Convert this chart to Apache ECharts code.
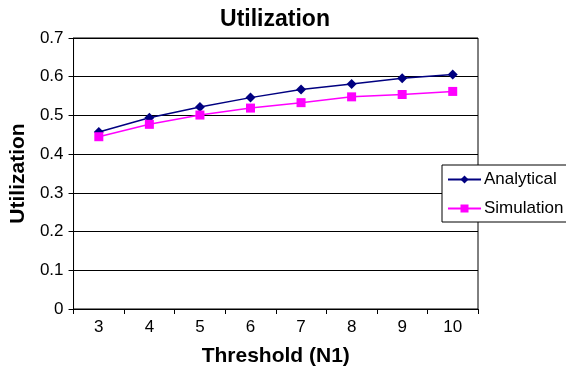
<!DOCTYPE html>
<html>
<head>
<meta charset="utf-8">
<script src="https://cdn.jsdelivr.net/npm/echarts@6/dist/echarts.min.js"></script>
<style>
  html, body { margin: 0; padding: 0; background: #fff; }
  #chart { width: 566px; height: 372px; }
</style>
</head>
<body>
<div id="chart"></div>
<script>
// Threshold values (N1) along the horizontal axis
const thresholds = ['3', '4', '5', '6', '7', '8', '9', '10'];
// Utilization from the analytical model
const analytical = [0.457, 0.494, 0.522, 0.546, 0.567, 0.581, 0.596, 0.606];
// Utilization measured in simulation
const simulation = [0.445, 0.477, 0.501, 0.519, 0.533, 0.548, 0.554, 0.562];

const FONT = '"Liberation Sans", Arial, sans-serif';

const chart = echarts.init(document.getElementById('chart'), null, { renderer: 'canvas' });
chart.setOption({
  animation: false,
  backgroundColor: '#ffffff',
  title: {
    text: 'Utilization',
    left: 270,
    textAlign: 'center',
    top: 3,
    textStyle: { fontFamily: FONT, fontSize: 23, fontWeight: 'bold', color: '#000' }
  },
  legend: {
    left: 442,
    top: 165,
    orient: 'vertical',
    itemGap: 12,
    itemWidth: 33,
    itemHeight: 10,
    padding: [6, 40, 5, 5],
    borderColor: '#000',
    borderWidth: 1,
    backgroundColor: '#fff',
    textStyle: { fontFamily: FONT, fontSize: 17, color: '#000', padding: [0, 0, 0, -2] },
    data: ['Analytical', 'Simulation']
  },
  grid: { left: 73, right: 88, top: 38, bottom: 61, containLabel: false, show: true, borderColor: '#000', borderWidth: 1 },
  xAxis: {
    type: 'category',
    data: thresholds,
    boundaryGap: true,
    name: 'Threshold (N1)',
    nameLocation: 'middle',
    nameGap: 37,
    nameTextStyle: { fontFamily: FONT, fontSize: 21, fontWeight: 'bold', color: '#000' },
    axisLine: { lineStyle: { color: '#000', width: 1 } },
    axisTick: { show: true, length: 5, alignWithLabel: false, lineStyle: { color: '#000' } },
    axisLabel: { fontFamily: FONT, fontSize: 17, color: '#000', margin: 10 },
    splitLine: { show: false }
  },
  yAxis: {
    type: 'value',
    min: 0,
    max: 0.7,
    interval: 0.1,
    name: 'Utilization',
    nameLocation: 'middle',
    nameGap: 37,
    nameTextStyle: { fontFamily: FONT, fontSize: 21, fontWeight: 'bold', color: '#000' },
    axisLine: { show: true, lineStyle: { color: '#000', width: 1 } },
    axisTick: { show: true, length: 5, lineStyle: { color: '#000' } },
    axisLabel: {
      fontFamily: FONT, fontSize: 17, color: '#000', margin: 10,
      formatter: v => (Math.round(v * 10) / 10).toString()
    },
    splitLine: { show: true, lineStyle: { color: '#000', width: 1 } }
  },
  series: [
    {
      name: 'Analytical',
      type: 'line',
      data: analytical,
      symbol: 'diamond',
      symbolSize: 10,
      color: '#000080',
      lineStyle: { color: '#000080', width: 1.5 },
      itemStyle: { color: '#000080' }
    },
    {
      name: 'Simulation',
      type: 'line',
      data: simulation,
      symbol: 'rect',
      symbolSize: 9,
      color: '#ff00ff',
      lineStyle: { color: '#ff00ff', width: 1.5 },
      itemStyle: { color: '#ff00ff' }
    }
  ]
});
</script>
</body>
</html>
